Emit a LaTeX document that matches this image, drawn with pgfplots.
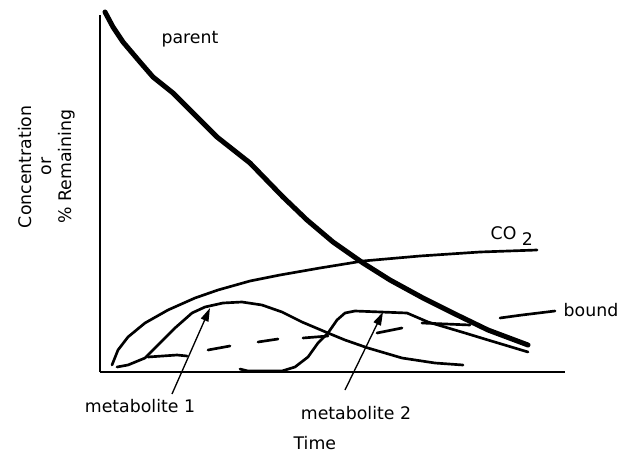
\documentclass[border=0pt]{standalone}
\usepackage{pgfplots}
\pgfplotsset{compat=1.18}
\usepackage{fontspec}
\setmainfont{DejaVu Sans}
\usetikzlibrary{arrows.meta}
\begin{document}
\begin{tikzpicture}[font=\fontsize{13}{15}\selectfont]
\useasboundingbox (-75pt,-69.75pt) rectangle (388.5pt,279pt);
\begin{axis}[at={(0,0)}, anchor=south west, scale only axis,
  width=348.75pt, height=267.75pt,
  xmin=100, xmax=565, ymin=0, ymax=357,
  axis x line=bottom, axis y line=left,
  axis line style={-, line width=0.8pt},
  xtick=\empty, ytick=\empty, clip=false,
  xlabel={Time}, ylabel={Concentration\\or\\\% Remaining},
  xlabel style={at={(axis description cs:0.462,-0.2)}, anchor=center},
  ylabel style={at={(axis description cs:-0.114,0.575)}, anchor=center, align=center},
]
% parent
\addplot[line width=3.75pt, line join=round, line cap=round] coordinates {
(105,360) (113,345) (123,330) (140,310) (153,295) (173,279) (193,259) (217,235)
(250,209) (283,175) (307,152) (333,130) (363,109) (390,92) (423,74) (455,58)
(488,42) (528,27)};
% CO2
\addplot[line width=2pt, line join=round, line cap=round] coordinates {
(112,7) (118,22) (128,35) (145,49) (168,62) (195,74) (218,82) (250,91)
(280,97) (320,104) (363,111) (420,116) (480,120) (537,122)};
% metabolite 1
\addplot[line width=2pt, line join=round, line cap=round] coordinates {
(117,5) (128,7) (145,14) (158,27) (175,44) (192,59) (205,65) (223,69)
(242,70) (262,67) (282,60) (302,50) (328,39) (345,32) (368,24) (402,14)
(435,9) (463,7)};
% metabolite 2
\addplot[line width=2pt, line join=round, line cap=round] coordinates {
(240,3) (248,1) (282,1) (295,5) (308,15) (318,29) (328,39) (337,52)
(345,59) (355,61) (407,59) (428,50) (465,39) (488,32) (528,20)};
% bound (dashed)
\addplot[line width=2pt, line join=round, line cap=round, unbounded coords=jump] coordinates {
(148,15) (177,17) (187,16) (197,nan)
(208,22) (230,26) (240,nan)
(258,30) (278,33) (290,nan)
(303,34) (328,36) (350,nan)
(377,39) (402,44) (410,nan)
(422,49) (470,47) (485,nan)
(500,54) (522,57) (555,61)};
\draw[line width=1pt, -{Triangle[length=10pt, width=6pt]}] (axis cs:172,-22) -- (axis cs:210,64);
\draw[line width=1pt, -{Triangle[length=10pt, width=6pt]}] (axis cs:345,-18) -- (axis cs:383,60);
\node at (axis cs:190,333) {parent};
\node[anchor=west] at (axis cs:486,136) {CO \raisebox{-4pt}{2}};
\node[anchor=west] at (axis cs:559,62) {bound};
\node at (axis cs:140,-34) {metabolite 1};
\node at (axis cs:356,-41) {metabolite 2};
\end{axis}
\end{tikzpicture}
\end{document}
